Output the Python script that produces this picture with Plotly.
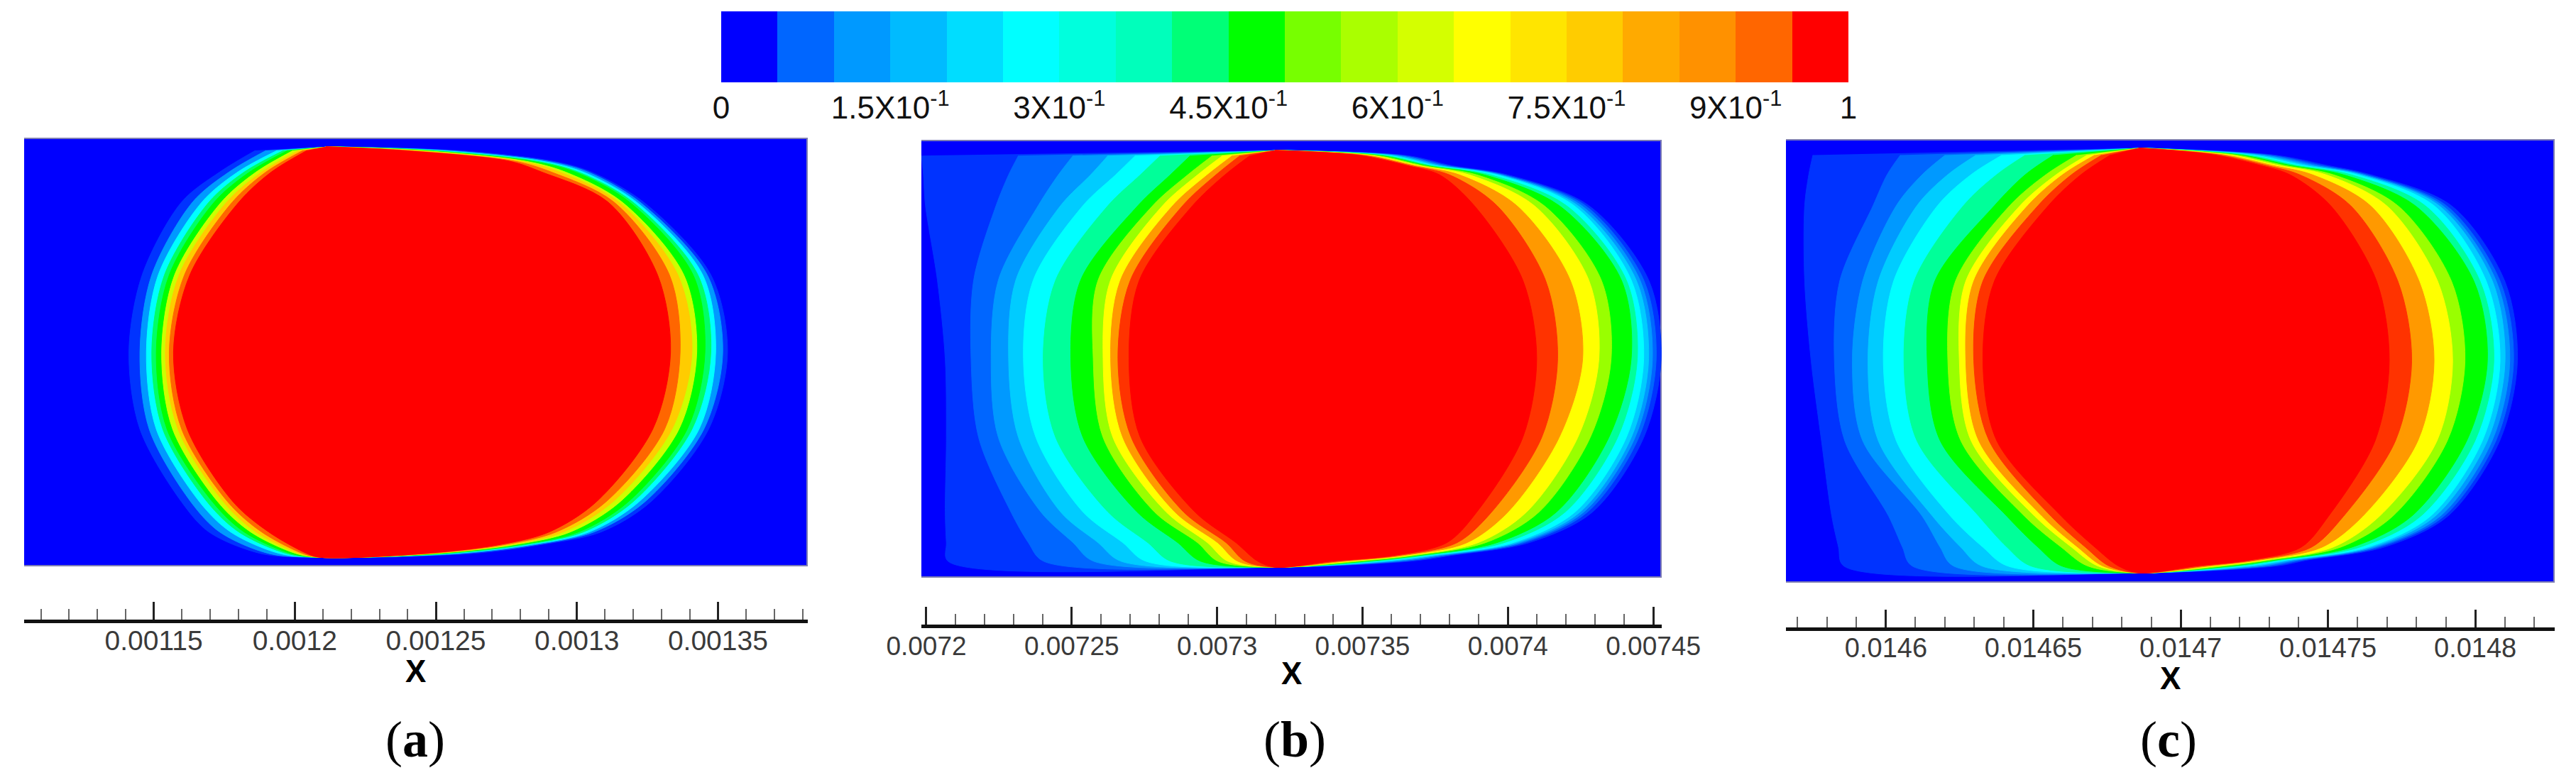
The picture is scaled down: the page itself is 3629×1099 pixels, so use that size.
import plotly.graph_objects as go

# colour key at the top
KEY_COLORS = ["#0000ff", "#0066ff", "#0099ff", "#00bbff", "#00ddff", "#00ffff", "#00ffdd", "#00ffbb", "#00ff77",
              "#00ff00", "#77ff00", "#aaff00", "#d4ff00", "#ffff00", "#ffe500", "#ffcc00", "#ffaa00", "#ff9100",
              "#ff6600", "#ff0000"]
KEY_TICKS = [0, 0.15, 0.3, 0.45, 0.6, 0.75, 0.9, 1]
KEY_LABELS = ["0", "1.5X10<sup>-1</sup>", "3X10<sup>-1</sup>", "4.5X10<sup>-1</sup>", "6X10<sup>-1</sup>",
              "7.5X10<sup>-1</sup>", "9X10<sup>-1</sup>", "1"]

# iso-line heights, percent of the channel from its top edge
A_ROWS = [3, 8, 15, 32, 50, 68, 85, 92, 97]
B_ROWS = [3.6, 8, 15, 32, 50, 68, 85, 92, 96.2]
C_ROWS = [3.6, 8, 15, 32, 50, 68, 85, 92, 96.2]
A_ROWS_R = [3, 5.5, 8, 15, 32, 50, 68, 85, 92, 95, 97]
B_ROWS_R = [3.6, 5.9, 8, 15, 32, 50, 68, 85, 92, 94.9, 96.2]
C_ROWS_R = [3.6, 5.9, 8, 15, 32, 50, 68, 85, 92, 94.9, 96.2]

# where all iso-lines meet at the top and bottom of the bubble (x in 1e-6, height in percent)
A_APEX = [[1211.0, 2.1], [1209.1, 97.9]]
B_APEX = [[7319.9, 2.4], [7319.9, 97.6]]
C_APEX = [[14685.8, 2.0], [14685.8, 97.8]]

# iso-line colours, outermost first
A_COLORS = ["#0033ff", "#0099ff", "#00ffff", "#00ff66", "#00ff00", "#ccff00", "#ffcc00", "#ff6600", "#ff0000"]
BC_COLORS = ["#0033ff", "#0066ff", "#0099ff", "#00ccff", "#00ffff", "#00ff99", "#00ff00", "#99ff00", "#ffff00",
             "#ff9900", "#ff3300", "#ff0000"]

# iso-line x positions in units of 1e-6, one row of the table per colour
A_LEFT = [
    [1186.0, 1173.4, 1159.9, 1145.9, 1141.2, 1145.1, 1159.9, 1169.6, 1187.9],
    [1189.8, 1176.7, 1163.8, 1149.3, 1145.1, 1148.4, 1163.2, 1173.4, 1190.8],
    [1193.7, 1179.8, 1167.1, 1151.6, 1147.4, 1150.9, 1166.3, 1177.3, 1194.6],
    [1196.0, 1182.1, 1169.6, 1153.8, 1149.3, 1153.2, 1169.0, 1180.2, 1197.1],
    [1197.5, 1184.0, 1171.5, 1155.5, 1150.9, 1154.7, 1170.9, 1182.1, 1198.7],
    [1199.4, 1186.3, 1174.0, 1157.4, 1152.8, 1156.7, 1172.8, 1184.4, 1200.4],
    [1201.4, 1188.3, 1175.9, 1159.0, 1154.1, 1158.6, 1174.8, 1186.3, 1201.8],
    [1202.9, 1189.8, 1177.9, 1160.9, 1155.5, 1159.9, 1176.3, 1188.3, 1202.9],
    [1204.3, 1191.7, 1180.2, 1162.8, 1157.0, 1161.9, 1178.2, 1190.8, 1204.3],
]
A_RIGHT = [
    [1257.3, 1291.7, 1305.1, 1323.6, 1347.5, 1353.4, 1346.7, 1326.1, 1308.5, 1286.7, 1263.0],
    [1254.4, 1289.8, 1303.9, 1322.3, 1346.2, 1351.7, 1345.0, 1324.0, 1306.0, 1284.9, 1259.2],
    [1251.5, 1287.8, 1302.2, 1321.1, 1344.6, 1349.2, 1343.3, 1321.9, 1304.3, 1283.0, 1256.3],
    [1248.6, 1285.9, 1300.5, 1319.8, 1342.9, 1347.5, 1340.8, 1319.8, 1302.2, 1281.2, 1253.8],
    [1246.7, 1284.0, 1299.3, 1318.6, 1341.2, 1345.4, 1339.1, 1318.1, 1300.5, 1279.4, 1251.9],
    [1244.7, 1282.0, 1295.9, 1316.0, 1337.9, 1342.5, 1336.2, 1315.2, 1297.6, 1277.5, 1249.5],
    [1241.8, 1280.1, 1293.8, 1314.8, 1335.8, 1340.8, 1333.7, 1312.7, 1295.1, 1275.7, 1248.6],
    [1239.9, 1278.1, 1290.9, 1313.1, 1332.8, 1336.6, 1331.1, 1310.2, 1292.6, 1273.8, 1247.0],
    [1238.0, 1276.2, 1287.5, 1311.0, 1328.6, 1333.2, 1326.9, 1306.8, 1290.1, 1272.0, 1245.7],
]
B_LEFT = [
    [7198.3, 7199.0, 7199.7, 7203.8, 7206.5, 7206.9, 7206.5, 7206.9, 7207.4],
    [7231.7, 7228.3, 7224.0, 7216.3, 7215.4, 7218.0, 7229.1, 7235.1, 7240.2],
    [7250.5, 7245.4, 7238.5, 7224.8, 7222.3, 7224.8, 7239.4, 7250.5, 7257.4],
    [7262.5, 7256.5, 7246.2, 7230.8, 7228.3, 7231.7, 7246.2, 7259.1, 7266.8],
    [7271.9, 7265.1, 7253.9, 7236.8, 7233.4, 7237.7, 7253.9, 7267.6, 7275.3],
    [7280.5, 7273.6, 7262.5, 7244.5, 7240.2, 7244.5, 7262.5, 7276.2, 7283.9],
    [7290.8, 7283.9, 7272.8, 7253.1, 7249.7, 7253.9, 7272.5, 7286.5, 7294.2],
    [7298.4, 7289.9, 7277.9, 7259.1, 7257.4, 7260.8, 7278.5, 7293.3, 7300.2],
    [7301.9, 7293.3, 7281.3, 7263.4, 7260.8, 7264.2, 7282.5, 7296.7, 7303.6],
    [7305.3, 7296.7, 7284.8, 7266.8, 7263.4, 7267.6, 7285.5, 7300.2, 7307.0],
    [7307.9, 7299.6, 7288.2, 7270.2, 7265.9, 7270.5, 7288.5, 7303.1, 7309.6],
    [7311.3, 7302.7, 7291.6, 7273.3, 7269.7, 7273.6, 7292.4, 7306.5, 7313.9],
]
B_RIGHT = [
    [7365.3, 7380.7, 7400.0, 7427.8, 7448.4, 7452.7, 7446.7, 7429.1, 7407.3, 7380.7, 7367.0],
    [7363.8, 7379.3, 7398.7, 7426.6, 7446.7, 7451.0, 7445.0, 7427.4, 7405.6, 7378.9, 7364.5],
    [7362.4, 7377.9, 7397.9, 7425.3, 7445.4, 7449.7, 7443.7, 7426.1, 7404.3, 7377.1, 7362.0],
    [7360.9, 7376.5, 7397.0, 7424.0, 7444.1, 7448.4, 7442.4, 7424.8, 7403.0, 7375.3, 7359.5],
    [7359.4, 7375.1, 7396.2, 7422.7, 7442.4, 7446.7, 7440.7, 7423.1, 7401.7, 7373.5, 7357.1],
    [7358.0, 7373.7, 7394.0, 7420.1, 7440.7, 7444.5, 7437.7, 7419.7, 7398.7, 7371.6, 7354.6],
    [7356.5, 7372.3, 7391.9, 7417.6, 7439.0, 7442.4, 7434.7, 7416.7, 7396.2, 7369.8, 7352.1],
    [7355.1, 7370.9, 7389.3, 7412.4, 7432.1, 7435.5, 7428.3, 7410.7, 7392.3, 7368.0, 7349.6],
    [7353.6, 7369.5, 7386.7, 7409.0, 7427.8, 7431.3, 7424.0, 7406.4, 7389.7, 7366.2, 7347.1],
    [7352.1, 7368.1, 7383.3, 7403.0, 7421.4, 7425.7, 7417.6, 7400.0, 7385.9, 7364.4, 7344.6],
    [7350.6, 7366.7, 7379.9, 7396.2, 7412.9, 7417.1, 7411.6, 7394.4, 7382.5, 7362.6, 7342.1],
    [7349.1, 7365.3, 7376.5, 7388.4, 7405.1, 7409.9, 7405.1, 7389.3, 7379.0, 7360.8, 7339.6],
]
C_LEFT = [
    [14575.2, 14573.8, 14572.4, 14572.4, 14574.6, 14578.1, 14581.6, 14583.9, 14585.6],
    [14604.9, 14600.4, 14595.6, 14584.3, 14582.5, 14586.0, 14600.9, 14605.6, 14608.8],
    [14620.1, 14612.3, 14603.5, 14592.1, 14588.6, 14592.1, 14612.3, 14618.4, 14622.8],
    [14630.6, 14621.0, 14610.5, 14597.4, 14593.9, 14597.4, 14615.8, 14625.4, 14632.4],
    [14639.4, 14628.9, 14617.5, 14602.6, 14599.1, 14603.5, 14621.9, 14632.9, 14641.1],
    [14647.3, 14637.6, 14626.3, 14609.6, 14606.1, 14610.5, 14631.5, 14641.1, 14649.0],
    [14656.9, 14647.3, 14636.8, 14616.6, 14614.0, 14618.4, 14641.0, 14651.6, 14659.5],
    [14664.8, 14654.3, 14642.0, 14623.6, 14621.0, 14625.4, 14647.0, 14659.5, 14668.3],
    [14668.3, 14657.8, 14645.5, 14627.1, 14624.9, 14628.9, 14650.5, 14663.0, 14671.8],
    [14670.9, 14660.0, 14648.1, 14629.8, 14627.1, 14631.5, 14653.0, 14665.1, 14673.5],
    [14673.2, 14663.0, 14651.6, 14632.9, 14629.8, 14635.0, 14656.0, 14667.7, 14675.6],
    [14676.1, 14666.2, 14655.1, 14636.8, 14632.9, 14637.6, 14659.5, 14670.9, 14678.8],
]
C_RIGHT = [
    [14731.9, 14749.6, 14764.4, 14791.9, 14810.0, 14814.3, 14808.3, 14790.7, 14769.0, 14743.0, 14733.0],
    [14730.1, 14747.5, 14763.0, 14790.2, 14808.4, 14813.0, 14807.0, 14789.4, 14767.3, 14741.2, 14730.5],
    [14728.2, 14745.5, 14761.9, 14788.9, 14807.1, 14811.7, 14805.7, 14788.1, 14766.0, 14739.4, 14728.0],
    [14726.4, 14743.4, 14761.0, 14787.7, 14805.8, 14810.1, 14804.1, 14786.4, 14764.7, 14737.6, 14725.4],
    [14724.5, 14741.3, 14759.8, 14786.0, 14803.7, 14808.4, 14802.4, 14784.8, 14763.4, 14735.8, 14722.9],
    [14722.7, 14739.2, 14757.7, 14783.0, 14801.6, 14806.3, 14799.9, 14781.5, 14760.7, 14734.0, 14720.4],
    [14720.8, 14737.2, 14755.1, 14779.6, 14799.5, 14804.1, 14797.1, 14778.4, 14758.1, 14732.2, 14717.9],
    [14719.0, 14735.1, 14751.7, 14773.7, 14791.9, 14796.5, 14790.5, 14772.0, 14754.3, 14730.4, 14715.4],
    [14717.2, 14733.0, 14749.2, 14769.9, 14787.2, 14792.3, 14787.0, 14767.5, 14751.7, 14728.6, 14712.9],
    [14715.3, 14731.0, 14744.6, 14764.4, 14780.9, 14786.0, 14780.5, 14761.8, 14748.0, 14726.8, 14710.4],
    [14713.5, 14728.9, 14740.3, 14757.7, 14773.7, 14778.4, 14772.9, 14755.3, 14744.4, 14725.0, 14708.0],
    [14711.6, 14726.8, 14737.0, 14750.9, 14766.5, 14770.8, 14766.0, 14750.2, 14740.9, 14723.2, 14705.5],
]

# axis ranges and ticks of the three panels
A_RANGE = [1104.05, 1381.86]
B_RANGE = [7198.3, 7452.9]
C_RANGE = [14566.05, 14826.95]
A_TICKS = ["0.00115", "0.0012", "0.00125", "0.0013", "0.00135"]
B_TICKS = ["0.0072", "0.00725", "0.0073", "0.00735", "0.0074", "0.00745"]
C_TICKS = ["0.0146", "0.01465", "0.0147", "0.01475", "0.0148"]

W, H = 3629, 1099
PAGE_MARGIN = 8  # the browser's body margin


def px_x(x):
    return (x - PAGE_MARGIN) / W


def px_y(y):
    return 1 - (y - PAGE_MARGIN) / H


def add_panel(fig, ax, x_range, rows, rows_r, apex, colors, left, right):
    xa, ya = "x" + ax, "y" + ax
    # channel background
    fig.add_trace(go.Scatter(x=[x_range[0] * 1e-6, x_range[1] * 1e-6, x_range[1] * 1e-6, x_range[0] * 1e-6],
                             y=[0, 0, 100, 100], fill="toself", fillcolor="#0000ff", mode="lines",
                             line=dict(color="#7d7db4", width=4), xaxis=xa, yaxis=ya, showlegend=False))
    for color, lt, rt in zip(colors, left, right):
        xs = [v * 1e-6 for v in lt + [apex[1][0]] + rt[::-1] + [apex[0][0]]]
        ys = rows + [apex[1][1]] + rows_r[::-1] + [apex[0][1]]
        fig.add_trace(go.Scatter(x=xs, y=ys, fill="toself", fillcolor=color, mode="lines",
                                 line=dict(color=color, width=1, shape="spline", smoothing=0.9),
                                 xaxis=xa, yaxis=ya, showlegend=False))


def panel_xaxis(domain_px, x_range, ticks, pos_px, tick_size, standoff):
    return dict(
        domain=[px_x(domain_px[0]), px_x(domain_px[1])], range=[x_range[0] * 1e-6, x_range[1] * 1e-6],
        anchor="free", position=px_y(pos_px), showline=True, linecolor="#111111", linewidth=5,
        tickmode="array", tickvals=[float(t) for t in ticks], ticktext=ticks, ticks="inside", ticklen=25,
        tickwidth=3, tickcolor="#222222", tickfont=dict(family="Liberation Sans", size=tick_size, color="#3a3a3a"),
        ticklabelstandoff=standoff,
        minor=dict(ticks="inside", ticklen=15, tickwidth=2, tickcolor="#666666", dtick=1e-5, tick0=ticks[0]),
        showgrid=False, zeroline=False, automargin=False,
    )


def panel_yaxis(top_px, bottom_px):
    return dict(domain=[px_y(bottom_px), px_y(top_px)], range=[100, 0], visible=False, anchor="free", position=0)


fig = go.Figure()

fig.add_trace(go.Heatmap(z=[list(range(len(KEY_COLORS)))], x0=0.025, dx=0.05, y=[0], xaxis="x4", yaxis="y4",
                         colorscale=[[i / (len(KEY_COLORS) - 1), c] for i, c in enumerate(KEY_COLORS)],
                         showscale=False, hoverinfo="skip"))

add_panel(fig, "", A_RANGE, A_ROWS, A_ROWS_R, A_APEX, A_COLORS, A_LEFT, A_RIGHT)
add_panel(fig, "2", B_RANGE, B_ROWS, B_ROWS_R, B_APEX, BC_COLORS, B_LEFT, B_RIGHT)
add_panel(fig, "3", C_RANGE, C_ROWS, C_ROWS_R, C_APEX, BC_COLORS, C_LEFT, C_RIGHT)

fig.update_layout(
    width=W, height=H, autosize=False, margin=dict(l=0, r=0, t=0, b=0, autoexpand=False),
    paper_bgcolor="white", plot_bgcolor="white", showlegend=False,
    xaxis=panel_xaxis((34, 1138), A_RANGE, A_TICKS, 875, 39, -9),
    yaxis=panel_yaxis(194, 798),
    xaxis2=panel_xaxis((1298, 2341), B_RANGE, B_TICKS, 882, 37, -6),
    yaxis2=panel_yaxis(197, 814),
    xaxis3=panel_xaxis((2516, 3599), C_RANGE, C_TICKS, 886, 38, -9),
    yaxis3=panel_yaxis(196, 821),
    xaxis4=dict(domain=[px_x(1016), px_x(2604)], range=[0, 1], anchor="y4", tickmode="array", tickvals=KEY_TICKS,
                ticktext=KEY_LABELS, ticks="", showgrid=False, zeroline=False, ticklabeloverflow="allow",
                ticklabelstandoff=6, tickfont=dict(family="Liberation Sans", size=44, color="#111111")),
    yaxis4=dict(domain=[px_y(116), px_y(16)], visible=False, anchor="x4"),
)

for text, x_px, y_px, size, family in [
    ("<b>X</b>", 585, 945, 44, "Liberation Sans"), ("<b>X</b>", 1819, 948, 44, "Liberation Sans"),
    ("<b>X</b>", 3057, 955, 44, "Liberation Sans"),
    ("(<b>a</b>)", 585, 1042, 72, "Liberation Serif"), ("(<b>b</b>)", 1824, 1042, 72, "Liberation Serif"),
    ("(<b>c</b>)", 3055, 1042, 72, "Liberation Serif"),
]:
    fig.add_annotation(text=text, x=px_x(x_px), y=px_y(y_px), xref="paper", yref="paper", showarrow=False,
                       xanchor="center", yanchor="middle", font=dict(family=family, size=size, color="black"))

fig.write_html("out.html")
